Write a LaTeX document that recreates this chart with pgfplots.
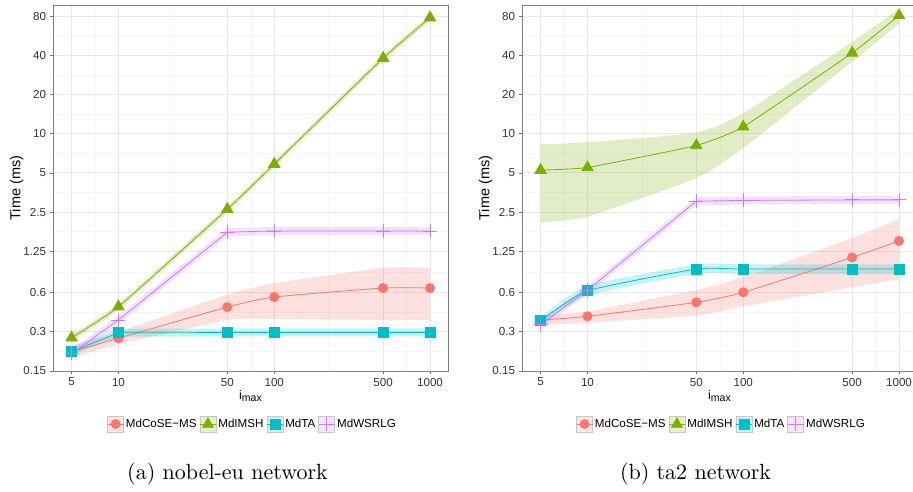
\documentclass[border=0pt]{standalone}
\usepackage{fontspec}
\usepackage{pgfplots}
\pgfplotsset{compat=1.18}
\newfontfamily\arial{Liberation Sans}
\definecolor{cR}{HTML}{F8766D}
\definecolor{cG}{HTML}{7CAE00}
\definecolor{cC}{HTML}{00BFC4}
\definecolor{cP}{HTML}{C77CFF}

\newcommand{\keybox}[1]{\draw[black!22, fill=#1!20!white, line width=0.6pt] (0pt,-8pt) rectangle (16pt,8pt);
  \draw[#1, line width=0.8pt] (0pt,0pt) -- (16pt,0pt);}

\pgfplotsset{
 myln/.style={#1, line width=0.8pt, forget plot},
 mkR/.style={myln=cR, smooth, tension=0.35, mark=*, mark size=4.6pt, mark options={fill=cR, draw=cR, solid}},
 mkG/.style={myln=cG, smooth, tension=0.25, mark=triangle*, mark size=6.5pt, mark options={fill=cG, draw=cG, solid}},
 mkC/.style={myln=cC, mark=square*, mark size=5pt, mark options={fill=cC, draw=cC, solid}},
 mkP/.style={myln=cP, mark=+, mark size=7pt, mark options={draw=cP, line width=0.8pt, solid}},
 myband/.style={fill=#1, fill opacity=0.22, draw=none, forget plot},
 sband/.style={myband=#1, smooth, tension=0.3},
}

\begin{document}
\begin{tikzpicture}
\useasboundingbox (0pt,0pt) rectangle (913pt,492pt);

% ---------------- (a) nobel-eu ----------------
\begin{axis}[at={(53pt,121pt)},
  scale only axis, width=395pt, height=366pt, anchor=south west,
  xmode=log, ymode=log,
  xmin=3.8, xmax=1304, ymin=0.15, ymax=97.6,
  xtick={5,10,50,100,500,1000}, xticklabels={5,10,50,100,500,1000},
  minor xtick={7.071,22.36,70.71,223.6,707.1},
  ytick={0.15,0.3,0.6,1.25,2.5,5,10,20,40,80},
  yticklabels={0.15,0.3,0.6,1.25,2.5,5,10,20,40,80},
  minor ytick={0.2121,0.4243,0.866,1.768,3.536,7.071,14.14,28.28,56.57},
  grid=both,
  major grid style={black!9, line width=0.9pt},
  minor grid style={black!4, line width=0.5pt},
  tick align=outside, major tick length=3.5pt, minor tick length=0pt,
  xtick pos=left, ytick pos=left,
  tick style={black!55, line width=0.7pt},
  axis line style={black!50, line width=0.8pt},
  tick label style={font=\arial\fontsize{11.6}{13}\selectfont, text=black!80},
  ylabel={Time (ms)},
  ylabel style={at={(axis description cs:-0.092,0.5)}, anchor=center, font=\arial\fontsize{14.5}{16}\selectfont},
  xlabel={i\raisebox{-0.3ex}{\fontsize{10.5}{12}\selectfont max}},
  xlabel style={at={(axis description cs:0.5,-0.068)}, anchor=center, font=\arial\fontsize{12.5}{14}\selectfont},
  legend columns=4,
  legend style={at={(axis description cs:0.505,-0.145)}, anchor=center, draw=none, fill=none,
     inner sep=0pt, font=\arial\fontsize{11.6}{13}\selectfont,
     /tikz/every even column/.append style={column sep=1pt}},
]
 \addplot[sband=cR] coordinates {(5,0.235)(10,0.30)(50,0.58)(100,0.71)(500,0.93)(1000,0.93)(1000,0.93)
   (1000,0.37)(1000,0.37)(500,0.37)(100,0.376)(50,0.37)(10,0.24)(5,0.19)(5,0.19)} -- cycle;
 \addplot[sband=cG] coordinates {(5,0.285)(10,0.494)(50,2.78)(100,6.16)(500,40.2)(1000,82.3)(1000,82.3)
   (1000,73.9)(1000,73.9)(500,36.1)(100,5.54)(50,2.49)(10,0.444)(5,0.256)(5,0.256)} -- cycle;
 \addplot[myband=cC] coordinates {(5,0.225)(10,0.318)(50,0.318)(100,0.319)(500,0.319)(1000,0.319)
   (1000,0.277)(500,0.277)(100,0.277)(50,0.276)(10,0.275)(5,0.198)} -- cycle;
 \addplot[myband=cP] coordinates {(5,0.22)(10,0.397)(50,1.88)(100,1.92)(500,1.92)(1000,1.92)
   (1000,1.67)(500,1.67)(100,1.67)(50,1.63)(10,0.345)(5,0.191)} -- cycle;
 \addplot[mkR] coordinates {(5,0.21)(10,0.268)(50,0.465)(100,0.555)(500,0.651)(1000,0.651)};
 \addplot[mkG] coordinates {(5,0.27)(10,0.468)(50,2.63)(100,5.84)(500,38.1)(1000,78)};
 \addplot[mkC] coordinates {(5,0.211)(10,0.295)(50,0.296)(100,0.297)(500,0.297)(1000,0.297)};
 \addplot[mkP] coordinates {(5,0.205)(10,0.37)(50,1.75)(100,1.79)(500,1.79)(1000,1.79)};
 \addlegendimage{legend image code/.code={\keybox{cR}\fill[cR] (8pt,0pt) circle (4.6pt);}}
 \addlegendentry{MdCoSE−MS}
 \addlegendimage{legend image code/.code={\keybox{cG}\fill[cG] (8pt,6.5pt) -- (2.4pt,-3.25pt) -- (13.6pt,-3.25pt) -- cycle;}}
 \addlegendentry{MdIMSH}
 \addlegendimage{legend image code/.code={\keybox{cC}\fill[cC] (3pt,-5pt) rectangle (13pt,5pt);}}
 \addlegendentry{MdTA}
 \addlegendimage{legend image code/.code={\keybox{cP}\draw[cP, line width=0.8pt] (8pt,-7pt) -- (8pt,7pt) (1pt,0pt) -- (15pt,0pt);}}
 \addlegendentry{MdWSRLG}
\end{axis}

% ---------------- (b) ta2 ----------------
\begin{axis}[at={(522pt,121pt)},
  scale only axis, width=395pt, height=366pt, anchor=south west,
  xmode=log, ymode=log,
  xmin=3.8, xmax=1304, ymin=0.15, ymax=97.6,
  xtick={5,10,50,100,500,1000}, xticklabels={5,10,50,100,500,1000},
  minor xtick={7.071,22.36,70.71,223.6,707.1},
  ytick={0.15,0.3,0.6,1.25,2.5,5,10,20,40,80},
  yticklabels={0.15,0.3,0.6,1.25,2.5,5,10,20,40,80},
  minor ytick={0.2121,0.4243,0.866,1.768,3.536,7.071,14.14,28.28,56.57},
  grid=both,
  major grid style={black!9, line width=0.9pt},
  minor grid style={black!4, line width=0.5pt},
  tick align=outside, major tick length=3.5pt, minor tick length=0pt,
  xtick pos=left, ytick pos=left,
  tick style={black!55, line width=0.7pt},
  axis line style={black!50, line width=0.8pt},
  tick label style={font=\arial\fontsize{11.6}{13}\selectfont, text=black!80},
  ylabel={Time (ms)},
  ylabel style={at={(axis description cs:-0.092,0.5)}, anchor=center, font=\arial\fontsize{14.5}{16}\selectfont},
  xlabel={i\raisebox{-0.3ex}{\fontsize{10.5}{12}\selectfont max}},
  xlabel style={at={(axis description cs:0.5,-0.068)}, anchor=center, font=\arial\fontsize{12.5}{14}\selectfont},
  legend columns=4,
  legend style={at={(axis description cs:0.505,-0.145)}, anchor=center, draw=none, fill=none,
     inner sep=0pt, font=\arial\fontsize{11.6}{13}\selectfont,
     /tikz/every even column/.append style={column sep=1pt}},
]
 \addplot[sband=cR] coordinates {(5,0.40)(10,0.43)(50,0.63)(100,0.79)(500,1.58)(1000,2.2)(1000,2.2)
   (1000,0.76)(1000,0.76)(500,0.66)(100,0.47)(50,0.40)(10,0.352)(5,0.34)(5,0.34)} -- cycle;
 \addplot[sband=cG] coordinates {(5,8.3)(10,8.6)(50,10.2)(100,14.4)(500,50.8)(1000,91.5)(1000,91.5)
   (1000,70)(1000,70)(500,35.7)(100,7.75)(50,4.56)(10,2.3)(5,2.07)(5,2.07)} -- cycle;
 \addplot[sband=cC] coordinates {(5,0.39)(10,0.68)(50,0.99)(100,0.99)(500,0.99)(1000,0.99)(1000,0.99)
   (1000,0.835)(1000,0.835)(500,0.835)(100,0.835)(50,0.835)(10,0.57)(5,0.34)(5,0.34)} -- cycle;
 \addplot[myband=cP] coordinates {(5,0.365)(10,0.674)(50,3.25)(100,3.29)(500,3.33)(1000,3.33)
   (1000,2.89)(500,2.89)(100,2.86)(50,2.82)(10,0.585)(5,0.317)} -- cycle;
 \addplot[mkR] coordinates {(5,0.37)(10,0.395)(50,0.506)(100,0.604)(500,1.12)(1000,1.5)};
 \addplot[mkG] coordinates {(5,5.25)(10,5.5)(50,8.12)(100,11.3)(500,41.8)(1000,81)};
 \addplot[mkC, smooth, tension=0.3] coordinates {(5,0.365)(10,0.62)(50,0.911)(100,0.911)(500,0.911)(1000,0.911)};
 \addplot[mkP] coordinates {(5,0.34)(10,0.628)(50,3.03)(100,3.07)(500,3.1)(1000,3.1)};
 \addlegendimage{legend image code/.code={\keybox{cR}\fill[cR] (8pt,0pt) circle (4.6pt);}}
 \addlegendentry{MdCoSE−MS}
 \addlegendimage{legend image code/.code={\keybox{cG}\fill[cG] (8pt,6.5pt) -- (2.4pt,-3.25pt) -- (13.6pt,-3.25pt) -- cycle;}}
 \addlegendentry{MdIMSH}
 \addlegendimage{legend image code/.code={\keybox{cC}\fill[cC] (3pt,-5pt) rectangle (13pt,5pt);}}
 \addlegendentry{MdTA}
 \addlegendimage{legend image code/.code={\keybox{cP}\draw[cP, line width=0.8pt] (8pt,-7pt) -- (8pt,7pt) (1pt,0pt) -- (15pt,0pt);}}
 \addlegendentry{MdWSRLG}
\end{axis}

\node[anchor=center] at (227.5pt,18pt) {\scalebox{2.2}{(a) nobel-eu network}};
\node[anchor=center] at (695.5pt,18pt) {\scalebox{2.2}{(b) ta2 network}};
\end{tikzpicture}
\end{document}
